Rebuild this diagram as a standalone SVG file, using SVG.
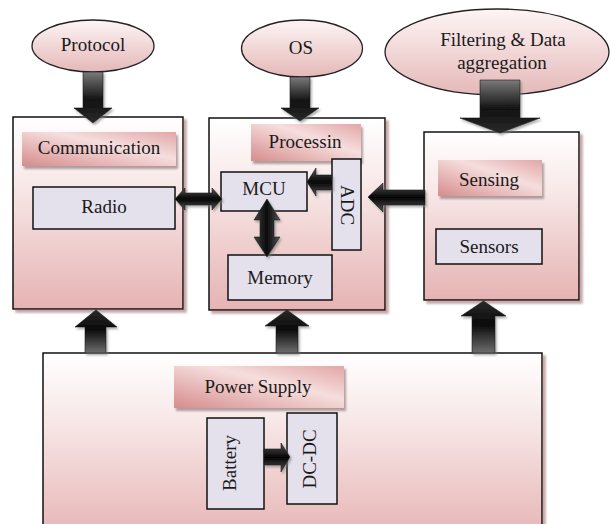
<svg xmlns="http://www.w3.org/2000/svg" width="612" height="524" viewBox="0 0 612 524">
  <defs>
    <linearGradient id="boxFill" x1="0" y1="0" x2="0" y2="1">
      <stop offset="0" stop-color="#ffffff"/>
      <stop offset="0.35" stop-color="#f8e8e8"/>
      <stop offset="1" stop-color="#e6b3b3"/>
    </linearGradient>
    <linearGradient id="ovalFill" x1="0" y1="0" x2="0" y2="1">
      <stop offset="0" stop-color="#fdf5f5"/>
      <stop offset="1" stop-color="#e5b8b8"/>
    </linearGradient>
    <linearGradient id="labelFill" x1="0" y1="1" x2="1" y2="0">
      <stop offset="0" stop-color="#d68c8c"/>
      <stop offset="0.6" stop-color="#f6dede"/>
      <stop offset="1" stop-color="#e2a6a6"/>
    </linearGradient>
    <linearGradient id="arrDown" x1="0" y1="0" x2="0" y2="1">
      <stop offset="0" stop-color="#7a7a7a"/>
      <stop offset="0.55" stop-color="#111"/>
      <stop offset="1" stop-color="#2a2a2a"/>
    </linearGradient>
    <linearGradient id="arrUp" x1="0" y1="0" x2="0" y2="1">
      <stop offset="0" stop-color="#2a2a2a"/>
      <stop offset="0.45" stop-color="#0a0a0a"/>
      <stop offset="1" stop-color="#6e6e6e"/>
    </linearGradient>
    <linearGradient id="arrSide" x1="0" y1="0" x2="0" y2="1">
      <stop offset="0" stop-color="#555"/>
      <stop offset="0.5" stop-color="#050505"/>
      <stop offset="1" stop-color="#555"/>
    </linearGradient>
    <linearGradient id="arrVert" x1="0" y1="0" x2="1" y2="0">
      <stop offset="0" stop-color="#444"/>
      <stop offset="0.5" stop-color="#0a0a0a"/>
      <stop offset="1" stop-color="#555"/>
    </linearGradient>
    <filter id="boxShadow" x="-5%" y="-5%" width="115%" height="115%">
      <feDropShadow dx="3" dy="3" stdDeviation="1" flood-color="#b08888" flood-opacity="0.75"/>
    </filter>
    <filter id="labelShadow" x="-10%" y="-20%" width="125%" height="160%">
      <feDropShadow dx="2" dy="3" stdDeviation="1.3" flood-color="#806868" flood-opacity="0.6"/>
    </filter>
    <filter id="arrowShadow" x="-30%" y="-30%" width="160%" height="160%">
      <feDropShadow dx="1.5" dy="2" stdDeviation="1" flood-color="#777" flood-opacity="0.6"/>
    </filter>
  </defs>
  <style>
    .box { fill: url(#boxFill); stroke: #111; stroke-width: 1.5; filter: url(#boxShadow); }
    .oval { fill: url(#ovalFill); stroke: #222; stroke-width: 1.3; }
    .label { fill: url(#labelFill); stroke: none; filter: url(#labelShadow); }
    .part { fill: #e4e0ec; stroke: #111; stroke-width: 1.5; }
    .txt { font-family: "Liberation Serif", "Times New Roman", serif; font-size: 19px; fill: #1a1a1a; text-anchor: middle; }
    .arrow { stroke: #1a1a1a; stroke-width: 0.6; filter: url(#arrowShadow); }
  </style>

  <!-- input ovals -->
  <g id="protocol">
    <ellipse class="oval" cx="93" cy="46" rx="61" ry="26"/>
    <text class="txt" x="93" y="51">Protocol</text>
  </g>
  <g id="os">
    <ellipse class="oval" cx="302" cy="48.5" rx="60.5" ry="28.5"/>
    <text class="txt" x="301" y="54">OS</text>
  </g>
  <g id="filtering">
    <ellipse class="oval" cx="497" cy="52" rx="112" ry="43"/>
    <text class="txt" x="503" y="46">Filtering &amp; Data</text>
    <text class="txt" x="502" y="69">aggregation</text>
  </g>

  <!-- communication unit -->
  <g id="communication">
    <rect class="box" x="13" y="117" width="170" height="192"/>
    <rect class="label" x="22" y="132" width="154" height="34"/>
    <text class="txt" x="99" y="154">Communication</text>
  </g>
  <g id="radio">
    <rect class="part" x="33" y="187" width="142" height="42"/>
    <text class="txt" x="104" y="213">Radio</text>
  </g>

  <!-- processing unit -->
  <g id="processing">
    <rect class="box" x="209" y="118" width="176" height="192"/>
    <rect class="label" x="251" y="124" width="110" height="37"/>
    <text class="txt" x="305" y="148">Processin</text>
  </g>
  <g id="mcu">
    <rect class="part" x="221" y="172" width="86" height="39"/>
    <text class="txt" x="264" y="195">MCU</text>
  </g>
  <g id="adc">
    <rect class="part" x="332" y="159" width="29" height="91"/>
    <text class="txt" transform="translate(341,205) rotate(90)" x="0" y="0">ADC</text>
  </g>
  <g id="memory">
    <rect class="part" x="228" y="255" width="104" height="45"/>
    <text class="txt" x="280" y="284">Memory</text>
  </g>

  <!-- sensing unit -->
  <g id="sensing">
    <rect class="box" x="424" y="132" width="155" height="168"/>
    <rect class="label" x="438" y="160" width="104" height="36"/>
    <text class="txt" x="489" y="186">Sensing</text>
  </g>
  <g id="sensors">
    <rect class="part" x="436" y="229" width="106" height="35"/>
    <text class="txt" x="489" y="253">Sensors</text>
  </g>

  <!-- power unit -->
  <g id="power">
    <rect class="box" x="43" y="353" width="499" height="190"/>
    <rect class="label" x="174" y="366" width="170" height="42"/>
    <text class="txt" x="258" y="393">Power Supply</text>
  </g>
  <g id="battery">
    <rect class="part" x="207" y="418" width="57" height="91"/>
    <text class="txt" transform="translate(236,463) rotate(-90)" x="0" y="0">Battery</text>
  </g>
  <g id="dcdc">
    <rect class="part" x="287" y="413" width="50" height="91"/>
    <text class="txt" transform="translate(316,459) rotate(-90)" x="0" y="0">DC-DC</text>
  </g>

  <!-- block arrows -->
  <g id="connectors">
    <path class="arrow" fill="url(#arrDown)" d="M83,72 H103 V108 H112 L93,123 L74,108 H83 Z"/>
    <path class="arrow" fill="url(#arrDown)" d="M290,77 H310 V108 H319 L300,121 L281,108 H290 Z"/>
    <path class="arrow" fill="url(#arrDown)" d="M480,80 H520 V118 H540 L500,133 L460,118 H480 Z"/>

    <path class="arrow" fill="url(#arrUp)" d="M85,353 V327 H75 L96,310 L117,327 H106 V353 Z"/>
    <path class="arrow" fill="url(#arrUp)" d="M276,353 V326 H265 L287,310 L309,326 H298 V353 Z"/>
    <path class="arrow" fill="url(#arrUp)" d="M472,353 V316 H461 L483.5,301 L506,316 H495 V353 Z"/>

    <path class="arrow" fill="url(#arrSide)" d="M175,199 L185,188 V193 H212 V188 L222,199 L212,210 V205 H185 V210 Z"/>
    <path class="arrow" fill="url(#arrSide)" d="M307,182 L316,168 V175 H332 V190 H316 V196 Z"/>
    <path class="arrow" fill="url(#arrSide)" d="M368,197 L383,183 V190 H425 V205 H383 V212 Z"/>
    <path class="arrow" fill="url(#arrVert)" d="M267,199 L280,220 H274 V237 H280 L267,257 L254,237 H260 V220 H254 Z"/>
    <path class="arrow" fill="url(#arrSide)" d="M264,449 H281 V443 L290,457 L281,472 V465 H264 Z"/>
  </g>
</svg>
